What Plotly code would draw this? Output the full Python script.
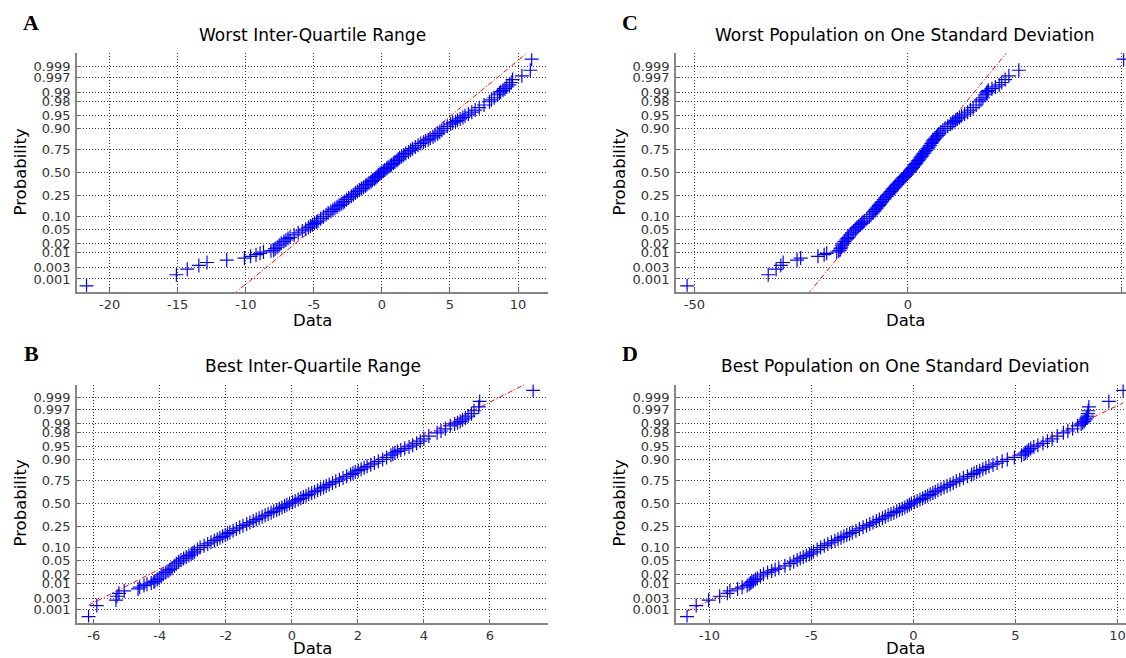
import plotly.graph_objects as go
from statistics import NormalDist

ND = NormalDist()
W, H = 1126, 658

# ---------------- data ----------------
PROB_TICKS = [0.001, 0.003, 0.01, 0.02, 0.05, 0.10, 0.25, 0.50, 0.75, 0.90,
              0.95, 0.98, 0.99, 0.997, 0.999]
PROB_TICK_TEXT = ["0.001", "0.003", "0.01", "0.02", "0.05", "0.10", "0.25", "0.50",
                  "0.75", "0.90", "0.95", "0.98", "0.99", "0.997", "0.999"]

# cumulative probabilities of the plotted points (lower tail ranks, body, upper tail ranks)
P_LOW = [0.0005, 0.0015, 0.0025, 0.0035, 0.0045, 0.0055, 0.0065, 0.0075, 0.0085,
         0.0095, 0.0105, 0.0115]
P_MID = [0.012, 0.0135, 0.015, 0.0175, 0.02, 0.0225, 0.025, 0.0275, 0.03, 0.035,
         0.04, 0.045, 0.05, 0.055, 0.06, 0.065, 0.07, 0.075, 0.08, 0.09,
         0.10, 0.11, 0.12, 0.13, 0.14, 0.15, 0.16, 0.17, 0.18, 0.19,
         0.20, 0.215, 0.23, 0.245, 0.26, 0.275, 0.29, 0.305, 0.32, 0.335,
         0.35, 0.365, 0.38, 0.395, 0.41, 0.425, 0.44, 0.455, 0.47, 0.485,
         0.50, 0.515, 0.53, 0.545, 0.56, 0.575, 0.59, 0.605, 0.62, 0.635,
         0.65, 0.665, 0.68, 0.695, 0.71, 0.725, 0.74, 0.755, 0.77, 0.785,
         0.80, 0.81, 0.82, 0.83, 0.84, 0.85, 0.86, 0.87, 0.88, 0.89,
         0.90, 0.91, 0.92, 0.925, 0.93, 0.935, 0.94, 0.945, 0.95, 0.955,
         0.96, 0.965, 0.97, 0.975, 0.98, 0.9825, 0.985, 0.988]
P_HIGH = [0.9895, 0.9905, 0.9915, 0.9925, 0.9935, 0.9945, 0.9955, 0.9965, 0.9975,
          0.9985, 0.9995]

# Panel A: Worst Inter-Quartile Range
A_LOW = [-21.7, -15.1, -14.3, -13.45, -12.85, -11.4, -10.1, -9.65, -9.25, -8.95, -8.7, -8.15]
A_MID = [-7.95, -7.85, -7.7, -7.55, -7.4, -7.2, -7.05, -6.9, -6.75, -6.45,
         -6.15, -5.85, -5.6, -5.4, -5.25, -5.1, -4.95, -4.8, -4.7, -4.5,
         -4.3, -4.1, -3.95, -3.75, -3.6, -3.45, -3.3, -3.15, -3.0, -2.85,
         -2.75, -2.6, -2.45, -2.25, -2.1, -1.95, -1.8, -1.65, -1.5, -1.35,
         -1.2, -1.1, -0.95, -0.8, -0.7, -0.55, -0.45, -0.35, -0.25, -0.15,
         -0.05, 0.1, 0.2, 0.35, 0.45, 0.6, 0.7, 0.85, 0.95, 1.1,
         1.2, 1.3, 1.45, 1.6, 1.75, 1.95, 2.1, 2.25, 2.45, 2.65,
         2.85, 3.05, 3.2, 3.4, 3.55, 3.75, 3.9, 4.1, 4.25, 4.4,
         4.55, 4.8, 5.05, 5.2, 5.4, 5.55, 5.75, 5.95, 6.1, 6.35,
         6.6, 6.85, 7.15, 7.5, 7.9, 8.05, 8.25, 8.5]
A_HIGH = [8.64, 8.72, 8.9, 9.04, 9.17, 9.36, 9.5, 9.6, 10.28, 10.9, 11.0]
A_FIT = (-0.02, 3.08)   # (mean, sd) of the red reference line

# Panel B: Best Inter-Quartile Range
B_LOW = [-6.16, -5.91, -5.33, -5.3, -5.24, -5.08, -4.66, -4.61, -4.48, -4.39, -4.26, -4.18]
B_MID = [-4.15, -4.08, -4.02, -3.96, -3.9, -3.82, -3.75, -3.69, -3.63, -3.56,
         -3.5, -3.43, -3.36, -3.28, -3.2, -3.12, -3.05, -3.0, -2.95, -2.86,
         -2.78, -2.66, -2.55, -2.45, -2.35, -2.26, -2.18, -2.1, -2.02, -1.95,
         -1.88, -1.78, -1.68, -1.58, -1.48, -1.37, -1.27, -1.17, -1.08, -0.99,
         -0.9, -0.81, -0.72, -0.63, -0.55, -0.46, -0.38, -0.3, -0.22, -0.15,
         -0.07, 0.02, 0.1, 0.19, 0.27, 0.35, 0.43, 0.51, 0.6, 0.69,
         0.78, 0.87, 0.96, 1.04, 1.13, 1.23, 1.33, 1.44, 1.55, 1.66,
         1.78, 1.85, 1.92, 2.01, 2.1, 2.19, 2.28, 2.39, 2.5, 2.62,
         2.75, 2.87, 3.0, 3.06, 3.12, 3.2, 3.3, 3.42, 3.55, 3.66,
         3.78, 3.89, 4.0, 4.15, 4.4, 4.52, 4.65, 4.8]
B_HIGH = [4.93, 5.02, 5.1, 5.17, 5.26, 5.34, 5.44, 5.52, 5.66, 5.69, 7.31]
B_FIT = (-0.07, 2.06)

# Panel C: Worst Population on One Standard Deviation
C_LOW = [-51.7, -32.7, -30.85, -29.75, -29.2, -25.95, -25.1, -21.05, -19.6, -19.0, -16.65, -16.2]
C_MID = [-15.9, -15.75, -15.6, -15.4, -15.2, -14.85, -14.5, -14.2, -13.9, -13.5,
         -13.1, -12.7, -12.3, -11.9, -11.5, -11.15, -10.8, -10.5, -10.2, -9.6,
         -9.0, -8.6, -8.2, -7.9, -7.6, -7.3, -7.0, -6.75, -6.5, -6.25,
         -6.0, -5.65, -5.3, -4.95, -4.6, -4.3, -4.0, -3.7, -3.4, -3.1,
         -2.8, -2.5, -2.2, -1.9, -1.6, -1.3, -1.0, -0.7, -0.4, -0.1,
         0.2, 0.5, 0.75, 0.95, 1.2, 1.45, 1.7, 1.95, 2.2, 2.45,
         2.7, 2.95, 3.2, 3.45, 3.7, 4.0, 4.3, 4.6, 4.9, 5.2,
         5.5, 5.7, 5.9, 6.15, 6.4, 6.7, 7.0, 7.3, 7.7, 8.2,
         8.7, 9.35, 10.0, 10.4, 10.8, 11.2, 11.6, 12.1, 12.6, 13.3,
         14.0, 14.65, 15.3, 16.0, 16.7, 17.15, 17.6, 18.1]
C_HIGH = [18.4, 18.6, 18.85, 19.7, 20.5, 21.4, 22.0, 22.8, 23.67, 26.0, 50.55]
C_FIT = (0.05, 6.65)

# Panel D: Best Population on One Standard Deviation
D_LOW = [-11.1, -10.65, -10.04, -9.5, -9.12, -9.0, -8.62, -8.4, -8.15, -8.05, -7.98, -7.92]
D_MID = [-7.85, -7.75, -7.65, -7.5, -7.35, -7.15, -6.95, -6.78, -6.6, -6.3,
         -6.05, -5.87, -5.7, -5.55, -5.4, -5.25, -5.1, -5.0, -4.9, -4.72,
         -4.55, -4.37, -4.2, -4.02, -3.85, -3.7, -3.55, -3.41, -3.27, -3.13,
         -3.0, -2.82, -2.65, -2.47, -2.3, -2.14, -1.98, -1.82, -1.67, -1.52,
         -1.38, -1.24, -1.1, -0.96, -0.82, -0.68, -0.55, -0.42, -0.3, -0.2,
         -0.1, 0.04, 0.18, 0.32, 0.45, 0.58, 0.7, 0.82, 0.95, 1.07,
         1.2, 1.35, 1.5, 1.65, 1.8, 1.95, 2.1, 2.27, 2.45, 2.65,
         2.85, 2.97, 3.1, 3.25, 3.4, 3.55, 3.7, 3.9, 4.1, 4.35,
         4.6, 4.95, 5.3, 5.42, 5.5, 5.57, 5.65, 5.75, 5.9, 6.1,
         6.35, 6.57, 6.8, 7.05, 7.35, 7.57, 7.8, 8.05]
D_HIGH = [8.22, 8.3, 8.37, 8.43, 8.48, 8.52, 8.55, 8.57, 8.6, 9.58, 10.28]
D_FIT = (-0.04, 3.53)

A_XTICKS = [-20, -15, -10, -5, 0, 5, 10]
B_XTICKS = [-6, -4, -2, 0, 2, 4, 6]
C_XTICKS = [-50, 0, 50]
D_XTICKS = [-10, -5, 0, 5, 10]

# ---------------- layout geometry (pixels) ----------------
def px_x(v):
    return v / W

def px_y(v):
    return 1 - v / H

panels = [
    dict(letter="A", title="Worst Inter-Quartile Range", low=A_LOW, mid=A_MID, high=A_HIGH,
         fit=A_FIT, ticks=A_XTICKS, xrange=[-22.4, 12.2],
         box=(77, 548, 53.3, 291.7), center=312.5, xlab_dy=28.5),
    dict(letter="B", title="Best Inter-Quartile Range", low=B_LOW, mid=B_MID, high=B_HIGH,
         fit=B_FIT, ticks=B_XTICKS, xrange=[-6.51, 7.76],
         box=(77, 548, 384.5, 622.5), center=312.5, xlab_dy=25.5),
    dict(letter="C", title="Worst Population on One Standard Deviation", low=C_LOW, mid=C_MID,
         high=C_HIGH, fit=C_FIT, ticks=C_XTICKS, xrange=[-54.3, 51.1],
         box=(676, 1126, 53.3, 291.7), center=905, xlab_dy=28.5),
    dict(letter="D", title="Best Population on One Standard Deviation", low=D_LOW, mid=D_MID,
         high=D_HIGH, fit=D_FIT, ticks=D_XTICKS, xrange=[-11.64, 10.42],
         box=(676, 1126, 384.5, 622.5), center=905, xlab_dy=25.5),
]

ZR = 3.46
TICK_FONT = dict(family="DejaVu Sans", size=13, color="#333333")
LABEL_FONT = dict(family="DejaVu Sans", size=16.5, color="#000000")
TITLE_FONT = dict(family="DejaVu Sans", size=17, color="#000000")
LETTER_FONT = dict(family="Liberation Serif", size=22, color="#000000")

fig = go.Figure()
layout = dict(width=W, height=H, margin=dict(l=0, r=0, t=0, b=0),
              paper_bgcolor="white", plot_bgcolor="white", showlegend=False,
              annotations=[])

ytickvals = [ND.inv_cdf(p) for p in PROB_TICKS]
probs = P_LOW + P_MID + P_HIGH
zs = [ND.inv_cdf(p) for p in probs]

for i, p in enumerate(panels, start=1):
    xa = "x" if i == 1 else f"x{i}"
    ya = "y" if i == 1 else f"y{i}"
    vals = p["low"] + p["mid"] + p["high"]
    mu, sd = p["fit"]
    lx = [min(vals), max(vals)]
    ly = [(v - mu) / sd for v in lx]
    fig.add_trace(go.Scatter(x=lx, y=ly, mode="lines", xaxis=xa, yaxis=ya,
                             line=dict(color="#ff0000", width=1, dash="5px,2px,1px,2px"),
                             hoverinfo="skip"))
    fig.add_trace(go.Scatter(x=vals, y=zs, mode="markers", xaxis=xa, yaxis=ya,
                             marker=dict(symbol="cross-thin", size=10, color="#0000ff",
                                         line=dict(width=1.2, color="#0000ff"))))
    l, r, t, b = p["box"]
    common = dict(showgrid=True, gridcolor="#3a3a3a", griddash="1px,2px", gridwidth=1,
                  showline=True, linecolor="#858585", linewidth=1.6, mirror=False,
                  zeroline=False, ticks="inside", ticklen=4, tickcolor="#666666",
                  tickfont=TICK_FONT)
    layout["xaxis" if i == 1 else f"xaxis{i}"] = dict(
        domain=[px_x(l), px_x(r)], range=p["xrange"], anchor=ya,
        tickmode="array", tickvals=p["ticks"], ticktext=[str(v) for v in p["ticks"]],
        **common)
    layout["yaxis" if i == 1 else f"yaxis{i}"] = dict(
        domain=[px_y(b), px_y(t)], range=[-ZR, ZR], anchor=xa,
        tickmode="array", tickvals=ytickvals, ticktext=PROB_TICK_TEXT,
        ticklabelstandoff=2, **common)
    # title
    layout["annotations"].append(dict(
        text=p["title"], x=px_x(p["center"]), y=px_y(t - 18.5), xref="paper", yref="paper",
        xanchor="center", yanchor="middle", showarrow=False, font=TITLE_FONT))
    # x label
    layout["annotations"].append(dict(
        text="Data", x=px_x(p["center"]), y=px_y(b + p["xlab_dy"]), xref="paper",
        yref="paper", xanchor="center", yanchor="middle", showarrow=False, font=LABEL_FONT))
    # y label
    layout["annotations"].append(dict(
        text="Probability", x=px_x(l - 57), y=px_y((t + b) / 2), xref="paper", yref="paper",
        xanchor="center", yanchor="middle", showarrow=False, textangle=-90, font=LABEL_FONT))
    # panel letter
    layout["annotations"].append(dict(
        text="<b>" + p["letter"] + "</b>", x=px_x(l - 46), y=px_y(t - 31), xref="paper",
        yref="paper", xanchor="center", yanchor="middle", showarrow=False, font=LETTER_FONT))

fig.update_layout(**layout)
fig.write_html("out.html")
